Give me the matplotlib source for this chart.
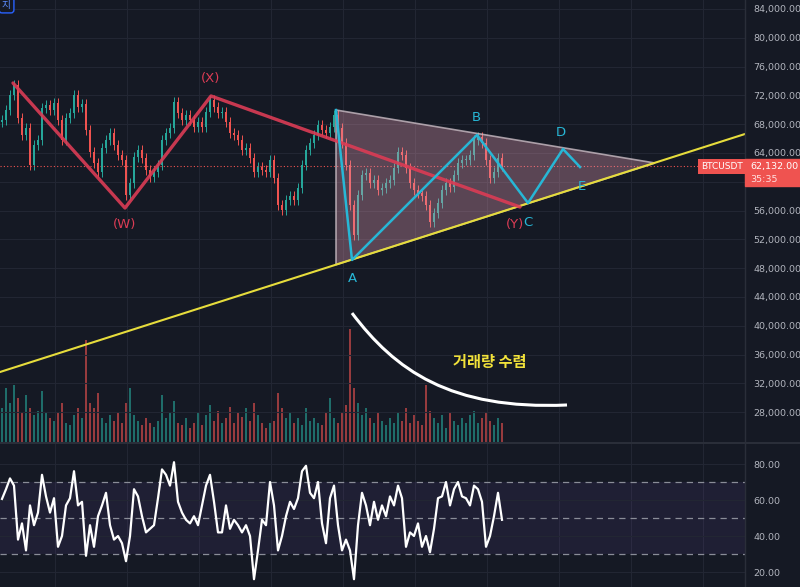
import matplotlib
matplotlib.use("Agg")
import matplotlib.pyplot as plt
import numpy as np
from matplotlib.patches import Polygon, Rectangle, PathPatch
from matplotlib.path import Path

# close prices (thousand USD), one bar every ~4 px of the screenshot
closes = [68.58, 69.97, 72.05, 73.44, 68.86, 66.50, 67.47, 62.33, 65.11, 65.80,
          70.25, 70.66, 69.97, 70.94, 68.58, 65.80, 68.86, 69.55, 72.05, 70.39,
          70.80, 67.19, 64.14, 62.61, 61.36, 64.69, 65.80, 66.78, 65.11, 63.72,
          63.03, 58.16, 59.83, 63.44, 64.42, 63.30, 61.64, 60.66, 61.36, 62.33,
          65.80, 66.78, 67.47, 71.08, 69.55, 68.58, 69.28, 68.58, 67.61, 68.30,
          67.61, 69.69, 71.36, 70.39, 69.55, 69.69, 68.30, 66.78, 66.50, 65.80,
          64.42, 64.69, 63.30, 61.36, 62.05, 61.64, 61.36, 63.03, 60.53, 56.78,
          56.08, 57.47, 58.03, 57.47, 59.14, 62.33, 64.42, 65.39, 66.50, 67.89,
          67.19, 66.78, 67.61, 69.28, 67.47, 65.39, 62.33, 56.78, 52.61, 58.16,
          60.94, 61.22, 59.83, 60.25, 58.86, 59.14, 59.83, 60.25, 61.92, 64.14,
          63.72, 61.92, 59.83, 58.86, 58.44, 58.03, 56.78, 54.41, 55.66, 57.05,
          58.86, 59.83, 59.28, 60.94, 62.61, 63.03, 63.03, 63.72, 65.80, 66.22,
          65.39, 63.03, 60.53, 61.36, 63.30, 62.13]

volumes = [35, 55, 40, 58, 45, 30, 48, 35, 28, 32, 52, 30, 25, 22, 30, 40, 20, 18,
           28, 35, 25, 103, 40, 35, 50, 25, 20, 28, 22, 30, 20, 40, 55, 28, 22, 18,
           25, 20, 16, 22, 48, 25, 30, 42, 20, 18, 25, 15, 20, 30, 18, 28, 38, 22,
           32, 20, 25, 36, 20, 30, 26, 35, 22, 40, 28, 20, 15, 20, 22, 50, 35, 25,
           30, 20, 25, 18, 35, 22, 25, 20, 18, 30, 45, 25, 20, 30, 38, 114, 55, 40,
           28, 35, 25, 20, 30, 22, 18, 25, 20, 30, 22, 35, 20, 28, 22, 18, 58, 32,
           25, 20, 28, 15, 30, 22, 18, 25, 20, 28, 32, 20, 25, 30, 22, 18, 25, 20]

rsi = [60.6, 66, 72, 68, 38, 47, 32, 57, 46, 53, 74, 62, 53, 61, 34, 40, 57, 61,
       76, 57, 59, 29, 46, 34, 51, 57, 64, 46, 38, 40, 36, 26, 40, 66, 62, 51, 42,
       44, 46, 61, 77, 74, 68, 81, 59, 53, 49, 47, 51, 46, 57, 68, 74, 59, 42, 42,
       57, 44, 49, 46, 42, 46, 40, 16, 32, 49, 46, 70, 57, 32, 40, 51, 59, 55, 61,
       76, 79, 64, 61, 70, 47, 36, 61, 68, 46, 32, 38, 32, 16, 46, 64, 57, 46, 59,
       49, 57, 51, 62, 57, 68, 61, 34, 42, 40, 47, 34, 40, 31, 44, 61, 62, 70, 57,
       66, 70, 62, 61, 57, 68, 66, 59, 34, 40, 51, 64, 49]

# drawing tools (bar index, thousand USD)
wxy_x = [2.75, 30.75, 52.25, 129.5]
wxy_y = [73.72, 56.36, 71.92, 56.5]
wxy_labels = ["(W)", "(X)", "(Y)"]
wxy_lab_pos = [(30.75, 54.0), (52.25, 74.3), (128.25, 54.1)]

abcde_x = [83.5, 87.5, 118.75, 131.5, 140.25, 144.5]
abcde_y = [69.97, 49.14, 66.50, 57.05, 64.55, 62.05]
abcde_labels = ["A", "B", "C", "D", "E"]
abcde_lab_pos = [(87.5, 46.5), (118.5, 68.9), (131.5, 54.4), (139.75, 66.8), (145.0, 59.4)]

triangle = [(83.5, 69.97), (163.25, 62.61), (83.5, 48.49)]
trend_x = [-0.5, 185.75]
trend_y = [33.58, 66.64]
vol_curve = [(87.5, 41.77), (98.25, 33.86), (112.0, 28.30), (141.25, 29.00)]

last_price = 62132.0
price_ticks = list(range(28000, 84001, 4000))
rsi_ticks = [20, 40, 60, 80]

BG = "#151924"
GRID = "#222633"
UP = "#26a69a"
DOWN = "#ef5350"
TXT = "#b2b5be"

closes = np.array(closes) * 1000
opens = np.r_[closes[0] - 300, closes[:-1]]
idx = np.arange(len(closes))
up = closes >= opens
cols = np.where(up, UP, DOWN)

fig = plt.figure(figsize=(8, 5.87), dpi=100, facecolor=BG)
ax = fig.add_axes([0, 144 / 587, 745 / 800, 443 / 587], facecolor=BG)
axr = fig.add_axes([0, 0, 745 / 800, 144 / 587], facecolor=BG, sharex=ax)
axv = ax.twinx()

xmin, xmax = -0.5, 185.75
ax.set_xlim(xmin, xmax)
ax.set_ylim(23720, 85250)
axv.set_ylim(0, 443)
axr.set_ylim(11.67, 91.67)

vgrid = np.arange(13.25, 186, 18)
for a in (ax, axr):
    for s in a.spines.values():
        s.set_visible(False)
    for v in vgrid:
        a.axvline(v, color=GRID, lw=0.8, zorder=0)
    a.tick_params(axis="x", length=0, labelbottom=False)
    a.yaxis.tick_right()
    a.tick_params(axis="y", length=0, pad=6, labelsize=6.8, labelcolor=TXT)

for t in price_ticks:
    ax.axhline(t, color=GRID, lw=0.8, zorder=0)
ax.set_yticks(price_ticks)
# the 60,000 label sits under the last-price tag
ax.set_yticklabels(["" if t == 60000 else f"{t:,.2f}" for t in price_ticks])
axv.set_yticks([])
for s in axv.spines.values():
    s.set_visible(False)

# volume
axv.bar(idx, volumes, width=0.65, color=cols, alpha=0.6, lw=0, zorder=1)

# candles
body_lo = np.minimum(opens, closes)
body_hi = np.maximum(opens, closes)
ax.vlines(idx, body_lo - 700, body_hi + 700, colors=cols, lw=0.7, zorder=2)
ax.bar(idx, np.maximum(body_hi - body_lo, 150), bottom=body_lo, width=0.45,
       color=cols, lw=0, zorder=3)
ax.set_zorder(axv.get_zorder() + 1)
ax.patch.set_visible(False)
axv.patch.set_facecolor(BG)

# last price
ax.axhline(last_price, color=DOWN, ls=(0, (1, 2)), lw=0.8, zorder=2)

# triangle
tri = Polygon([(x, y * 1000) for x, y in triangle], closed=True,
              facecolor="#e8a0b8", alpha=0.33, edgecolor="none", zorder=4)
ax.add_patch(tri)
ax.add_patch(Polygon([(x, y * 1000) for x, y in triangle], closed=True,
                     fill=False, edgecolor="#c9bcc4", lw=1.2, alpha=0.8, zorder=4))

# trend line
ax.plot(trend_x, np.array(trend_y) * 1000, color="#e6dc3c", lw=1.5, zorder=5)

# WXY
ax.plot(wxy_x, np.array(wxy_y) * 1000, color="#dc3c55", lw=2.4, alpha=0.9,
        solid_capstyle="round", zorder=6)
for lab, (x, y) in zip(wxy_labels, wxy_lab_pos):
    ax.text(x, y * 1000, lab, color="#dc3c55", fontsize=9.5, ha="center",
            va="center", zorder=7)

# ABCDE
ax.plot(abcde_x, np.array(abcde_y) * 1000, color="#27b7d6", lw=1.8, zorder=6)
for lab, (x, y) in zip(abcde_labels, abcde_lab_pos):
    ax.text(x, y * 1000, lab, color="#27b7d6", fontsize=9.5, ha="center",
            va="center", zorder=7)

# volume convergence curve
verts = [(x, y * 1000) for x, y in vol_curve]
curve = Path(verts, [Path.MOVETO, Path.CURVE4, Path.CURVE4, Path.CURVE4])
ax.add_patch(PathPatch(curve, fill=False, edgecolor="white", lw=2.2, zorder=7))
ax.text(122, 34970, "거래량 수렴", color="#f2e23a", fontsize=11,
        fontweight="bold", style="italic", ha="center", va="center",
        family=["Noto Sans CJK KR", "DejaVu Sans"], zorder=7)

# RSI pane
axr.axhspan(30, 70, color="#7e57c2", alpha=0.1, lw=0, zorder=0)
for t in rsi_ticks:
    axr.axhline(t, color=GRID, lw=0.8, zorder=0)
for t in (70, 50, 30):
    axr.axhline(t, color="#8a8d98", lw=0.9, ls=(0, (5, 4)), zorder=1)
axr.plot(idx, rsi, color="white", lw=1.6, zorder=3)
axr.set_yticks(rsi_ticks)
axr.set_yticklabels([f"{t:.2f}" for t in rsi_ticks])

# separators
fig.add_artist(plt.Line2D([745 / 800, 745 / 800], [0, 1], color="#2a2e39", lw=1))
fig.add_artist(plt.Line2D([0, 1], [144 / 587, 144 / 587], color="#2a2e39", lw=1.5))

# price tags
fig.add_artist(Rectangle((745 / 800, 1 - 186 / 587), 55 / 800, 27 / 587,
                         color=DOWN, transform=fig.transFigure, zorder=10))
fig.text(750 / 800, 1 - 166 / 587, "62,132.00", color="white", fontsize=6.8,
         va="center", zorder=11)
fig.text(750 / 800, 1 - 179 / 587, "35:35", color="#ffe0e0", fontsize=6.8,
         va="center", zorder=11)
fig.text(722 / 800, 1 - 166.5 / 587, "BTCUSDT", color="white", fontsize=6.5,
         ha="center", va="center", zorder=11,
         bbox=dict(boxstyle="square,pad=0.3", fc=DOWN, ec="none"))

# cut-off toolbar box in the corner
fig.text(2 / 800, 1 - 5 / 587, "지", color="#5b8cff", fontsize=7, va="center",
         family=["Noto Sans CJK KR", "DejaVu Sans"],
         bbox=dict(boxstyle="round,pad=0.3", fc=BG, ec="#2962ff", lw=1))

fig.savefig("out.png", dpi=100, facecolor=BG)
